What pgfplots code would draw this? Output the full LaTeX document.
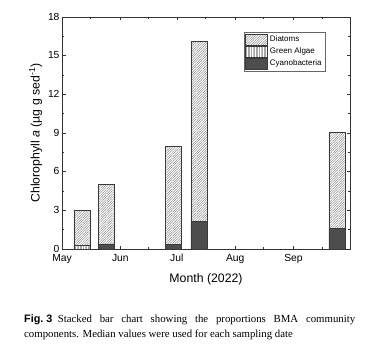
\documentclass[border=0pt]{standalone}
\usepackage{fontspec}
\setmainfont{Liberation Sans}
\newfontfamily\capserif{Liberation Serif}
\usepackage{pgfplots}
\pgfplotsset{compat=1.18}
\usetikzlibrary{patterns.meta}
\definecolor{cyano}{HTML}{4D4D4D}
\definecolor{edge}{HTML}{3A3A3A}
\pgfplotsset{mylegend/.style={legend image code/.code={\draw[##1] (0pt,-5.5pt) rectangle (22pt,5.5pt);}}}
\begin{document}
\begin{tikzpicture}
\path[use as bounding box] (-62pt,-107pt) rectangle (309pt,249pt);
\begin{axis}[
  at={(0,0)}, anchor=south west,
  scale only axis, width=288pt, height=232pt,
  xmin=0, xmax=153, ymin=0, ymax=18,
  xtick={0,31,61,92,123}, xticklabels={May,Jun,Jul,Aug,Sep},
  minor xtick={15,46,76,107,138},
  ytick={0,3,6,9,12,15,18},
  minor ytick={1.5,4.5,7.5,10.5,13.5,16.5},
  tick align=inside, major tick length=3.5pt, minor tick length=2pt,
  tick style={black!80, line width=0.5pt},
  axis line style={black!80, line width=0.6pt},
  ybar stacked, bar width=8.5,
  /pgf/number format/assume math mode=true,
  ticklabel style={font=\fontsize{10.3}{12}\selectfont},
  xticklabel style={yshift=-2pt},
  yticklabel style={xshift=1pt, yshift=0.5pt},
  xlabel={Month (2022)},
  ylabel={Chlorophyll \textit{a} (µg g sed\textsuperscript{-1})},
  label style={font=\fontsize{12.3}{14}\selectfont},
  xlabel style={yshift=-3pt},
  ylabel style={yshift=-1pt},
  reverse legend,
  legend style={at={(0.914,0.934)}, anchor=north east, font=\fontsize{8}{9}\selectfont,
    draw=black!60, line width=0.4pt, row sep=0.5pt, inner sep=1.5pt,
    /tikz/every even column/.append style={column sep=2pt}},
  legend cell align=left,
]
\addplot+[mylegend, draw=edge, fill=cyano, line width=0.5pt] coordinates
  {(10.5,0) (23.6,0.4) (59,0.35) (72.7,2.15) (146,1.6)};
\addlegendentry{Cyanobacteria}
\addplot+[mylegend, draw=edge, line width=0.5pt, fill=white,
  postaction={pattern={Lines[angle=90,distance=1.6pt,line width=0.3pt]}, pattern color=black!35}] coordinates
  {(10.5,0.3) (23.6,0) (59,0) (72.7,0) (146,0)};
\addlegendentry{Green Algae}
\addplot+[mylegend, draw=edge, line width=0.5pt, fill=white,
  postaction={pattern={Lines[angle=45,distance=1.7pt,line width=0.35pt]}, pattern color=black!55}] coordinates
  {(10.5,2.7) (23.6,4.6) (59,7.6) (72.7,13.95) (146,7.45)};
\addlegendentry{Diatoms}
\end{axis}
\node[anchor=north west, inner sep=0pt, text width=331pt, align=justify,
  font=\capserif\fontsize{10.8}{15}\selectfont] at (-38pt,-65pt)
  {\hyphenpenalty=10000 \mbox{\fontspec{Liberation Sans}\bfseries Fig.~3}\hspace{0.5em}Stacked bar chart showing the proportions BMA community\linebreak components. Median values were used for each sampling date};
\end{tikzpicture}
\end{document}
